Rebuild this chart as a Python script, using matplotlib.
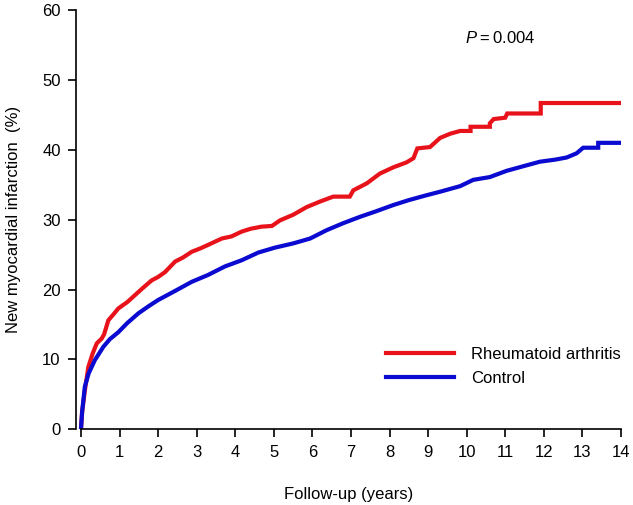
import matplotlib
matplotlib.use("Agg")
import matplotlib.pyplot as plt

plt.rcParams['font.family'] = ['Liberation Sans', 'DejaVu Sans']
plt.rcParams['mathtext.fontset'] = 'custom'
plt.rcParams['mathtext.it'] = 'Liberation Sans:italic'
plt.rcParams['mathtext.rm'] = 'Liberation Sans'

# cumulative incidence (years, %)
ra_years = [0, 0.03, 0.1, 0.19, 0.3, 0.41, 0.54, 0.6, 0.71, 0.85, 0.97, 1.2, 1.4,
            1.6, 1.83, 2.0, 2.18, 2.44, 2.65, 2.87, 3.1, 3.3, 3.65, 3.9, 4.17, 4.4,
            4.68, 4.95, 5.16, 5.5, 5.85, 6.2, 6.54, 6.97, 7.06, 7.41, 7.75, 8.1,
            8.44, 8.62, 8.72, 9.05, 9.31, 9.57, 9.83, 10.1, 10.1, 10.6, 10.6, 10.7,
            11.0, 11.05, 11.92, 11.92, 14.0]
ra_pct = [0, 2.5, 5.5, 8.9, 10.8, 12.3, 13.0, 13.6, 15.6, 16.5, 17.3, 18.2, 19.2,
          20.2, 21.3, 21.8, 22.5, 24.0, 24.6, 25.4, 25.9, 26.4, 27.3, 27.6, 28.3, 28.7,
          29.0, 29.1, 29.9, 30.7, 31.8, 32.6, 33.3, 33.3, 34.2, 35.2, 36.6, 37.5,
          38.2, 38.8, 40.2, 40.4, 41.7, 42.3, 42.7, 42.7, 43.3, 43.3, 43.8, 44.4,
          44.6, 45.2, 45.2, 46.7, 46.7]

ctrl_years = [0, 0.03, 0.1, 0.2, 0.36, 0.58, 0.75, 0.97, 1.2, 1.49, 1.75, 2.0, 2.44,
              2.87, 3.3, 3.73, 4.17, 4.6, 5.03, 5.5, 5.94, 6.37, 6.8, 7.23, 7.65, 8.1,
              8.5, 8.96, 9.31, 9.83, 10.17, 10.6, 11.04, 11.5, 11.9, 12.3, 12.59,
              12.85, 13.02, 13.41, 13.41, 14.0]
ctrl_pct = [0, 2.5, 6.1, 8.0, 9.9, 11.8, 12.9, 13.9, 15.2, 16.6, 17.6, 18.5, 19.8,
            21.1, 22.1, 23.3, 24.2, 25.3, 26.0, 26.6, 27.3, 28.5, 29.5, 30.4, 31.2, 32.1,
            32.8, 33.5, 34.0, 34.8, 35.7, 36.1, 37.0, 37.7, 38.3, 38.6, 38.9,
            39.5, 40.3, 40.3, 41.0, 41.0]

x_ticks = list(range(0, 15))
y_ticks = [0, 10, 20, 30, 40, 50, 60]

fig = plt.figure(figsize=(6.33, 5.05), dpi=100)
ax = fig.add_axes([0.120, 0.150, 0.861, 0.830])

ax.plot(ra_years, ra_pct, color='#e8121a', lw=3, label='Rheumatoid arthritis',
        solid_joinstyle='miter')
ax.plot(ctrl_years, ctrl_pct, color='#0a0ad0', lw=3, label='Control',
        solid_joinstyle='miter')

ax.set_xlim(-0.13, 14)
ax.set_ylim(0, 60)
ax.set_xticks(x_ticks)
ax.set_yticks(y_ticks)
ax.spines['top'].set_visible(False)
ax.spines['right'].set_visible(False)
ax.spines['bottom'].set_bounds(0, 14)
for s in ('left', 'bottom'):
    ax.spines[s].set_linewidth(1.2)
ax.tick_params(labelsize=12, length=6, width=1.2, pad=5)

ax.set_xlabel('Follow-up (years)', fontsize=12, labelpad=20)
ax.set_ylabel('New myocardial infarction  (%)', fontsize=12, labelpad=15)

ax.text(10.86, 56, r'$P$' + '\u2009=\u20090.004', fontsize=12, ha='center', va='center')

ax.legend(loc='upper left', bbox_to_anchor=(0.569, 0.196), frameon=False,
          fontsize=12, handlelength=4.1, handletextpad=1.0, labelspacing=0.55,
          borderpad=0, borderaxespad=0)

fig.savefig('out.png', dpi=100)
